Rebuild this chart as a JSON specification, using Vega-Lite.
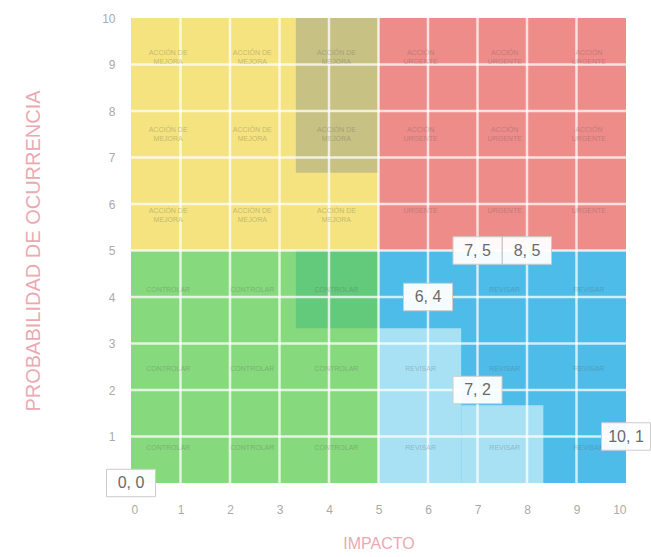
{
  "$schema": "https://vega.github.io/schema/vega-lite/v6.json",
  "autosize": "none",
  "width": 495,
  "height": 465,
  "padding": {"left": 131, "top": 18, "right": 25, "bottom": 74},
  "background": "white",
  "config": {"view": {"stroke": null}, "font": "Liberation Sans"},
  "datasets": {
    "zones": [
      {"zone": "amarillo", "x": 0, "x2": 5, "y": 5, "y2": 10},
      {"zone": "rojo", "x": 5, "x2": 10, "y": 5, "y2": 10},
      {"zone": "verde", "x": 0, "x2": 5, "y": 0, "y2": 5},
      {"zone": "azul", "x": 5, "x2": 10, "y": 0, "y2": 5},
      {"zone": "oliva", "x": 3.33, "x2": 5, "y": 6.67, "y2": 10},
      {"zone": "verde oscuro", "x": 3.33, "x2": 5, "y": 3.33, "y2": 5},
      {"zone": "azul claro", "x": 5, "x2": 6.67, "y": 0, "y2": 3.33},
      {"zone": "azul claro", "x": 6.67, "x2": 8.33, "y": 0, "y2": 1.67}
    ],
    "grid": [
      {"v": 1}, {"v": 2}, {"v": 3}, {"v": 4}, {"v": 5},
      {"v": 6}, {"v": 7}, {"v": 8}, {"v": 9}
    ],
    "cells": [
      {"x": 0.75, "y": 9.25, "t": ["ACCIÓN DE", "MEJORA"]},
      {"x": 2.45, "y": 9.25, "t": ["ACCIÓN DE", "MEJORA"]},
      {"x": 4.15, "y": 9.25, "t": ["ACCIÓN DE", "MEJORA"]},
      {"x": 0.75, "y": 7.6, "t": ["ACCIÓN DE", "MEJORA"]},
      {"x": 2.45, "y": 7.6, "t": ["ACCIÓN DE", "MEJORA"]},
      {"x": 4.15, "y": 7.6, "t": ["ACCIÓN DE", "MEJORA"]},
      {"x": 0.75, "y": 5.85, "t": ["ACCIÓN DE", "MEJORA"]},
      {"x": 2.45, "y": 5.85, "t": ["ACCIÓN DE", "MEJORA"]},
      {"x": 4.15, "y": 5.85, "t": ["ACCIÓN DE", "MEJORA"]},
      {"x": 5.85, "y": 9.25, "t": ["ACCIÓN", "URGENTE"]},
      {"x": 7.55, "y": 9.25, "t": ["ACCIÓN", "URGENTE"]},
      {"x": 9.25, "y": 9.25, "t": ["ACCIÓN", "URGENTE"]},
      {"x": 5.85, "y": 7.6, "t": ["ACCIÓN", "URGENTE"]},
      {"x": 7.55, "y": 7.6, "t": ["ACCIÓN", "URGENTE"]},
      {"x": 9.25, "y": 7.6, "t": ["ACCIÓN", "URGENTE"]},
      {"x": 5.85, "y": 5.85, "t": ["URGENTE"]},
      {"x": 7.55, "y": 5.85, "t": ["URGENTE"]},
      {"x": 9.25, "y": 5.85, "t": ["URGENTE"]},
      {"x": 0.75, "y": 4.15, "t": ["CONTROLAR"]},
      {"x": 2.45, "y": 4.15, "t": ["CONTROLAR"]},
      {"x": 4.15, "y": 4.15, "t": ["CONTROLAR"]},
      {"x": 0.75, "y": 2.45, "t": ["CONTROLAR"]},
      {"x": 2.45, "y": 2.45, "t": ["CONTROLAR"]},
      {"x": 4.15, "y": 2.45, "t": ["CONTROLAR"]},
      {"x": 0.75, "y": 0.75, "t": ["CONTROLAR"]},
      {"x": 2.45, "y": 0.75, "t": ["CONTROLAR"]},
      {"x": 4.15, "y": 0.75, "t": ["CONTROLAR"]},
      {"x": 7.55, "y": 4.15, "t": ["REVISAR"]},
      {"x": 9.25, "y": 4.15, "t": ["REVISAR"]},
      {"x": 5.85, "y": 2.45, "t": ["REVISAR"]},
      {"x": 7.55, "y": 2.45, "t": ["REVISAR"]},
      {"x": 9.25, "y": 2.45, "t": ["REVISAR"]},
      {"x": 5.85, "y": 0.75, "t": ["REVISAR"]},
      {"x": 7.55, "y": 0.75, "t": ["REVISAR"]},
      {"x": 9.25, "y": 0.75, "t": ["REVISAR"]}
    ],
    "points": [
      {"x": 0, "y": 0, "label": "0, 0"},
      {"x": 7, "y": 5, "label": "7, 5"},
      {"x": 8, "y": 5, "label": "8, 5"},
      {"x": 6, "y": 4, "label": "6, 4"},
      {"x": 7, "y": 2, "label": "7, 2"},
      {"x": 10, "y": 1, "label": "10, 1"}
    ]
  },
  "layer": [
    {
      "data": {"name": "zones"},
      "mark": {"type": "rect"},
      "encoding": {
        "x": {
          "field": "x", "type": "quantitative",
          "scale": {"domain": [0, 10], "nice": false},
          "axis": {
            "title": "IMPACTO", "values": [0,1,2,3,4,5,6,7,8,9,10],
            "grid": false, "domain": false, "ticks": false,
            "labelColor": "#aaaaaa", "labelFontSize": 12, "labelPadding": 21,
            "titleColor": "#eba9b2", "titleFontSize": 16, "titleFontWeight": "normal",
            "titlePadding": 20
          }
        },
        "x2": {"field": "x2"},
        "y": {
          "field": "y", "type": "quantitative",
          "scale": {"domain": [0, 10], "nice": false},
          "axis": {
            "title": "PROBABILIDAD DE OCURRENCIA", "values": [0,1,2,3,4,5,6,7,8,9,10],
            "grid": false, "domain": false, "ticks": false,
            "labelColor": "#aaaaaa", "labelFontSize": 12, "labelPadding": 16,
            "titleColor": "#eba9b2", "titleFontSize": 20, "titleFontWeight": "normal",
            "titlePadding": 58
          }
        },
        "y2": {"field": "y2"},
        "color": {
          "field": "zone", "type": "nominal", "legend": null,
          "scale": {
            "domain": ["amarillo", "rojo", "verde", "azul", "oliva", "verde oscuro", "azul claro"],
            "range": ["#f4e37f", "#ee8c89", "#87d97e", "#4dbce9", "#c8c184", "#63c97b", "#a9e1f4"]
          }
        }
      }
    },
    {
      "data": {"name": "grid"},
      "mark": {"type": "rule", "color": "white", "strokeWidth": 2.5, "opacity": 0.75},
      "encoding": {"x": {"field": "v", "type": "quantitative"}}
    },
    {
      "data": {"name": "grid"},
      "mark": {"type": "rule", "color": "white", "strokeWidth": 2.5, "opacity": 0.75},
      "encoding": {"y": {"field": "v", "type": "quantitative"}}
    },
    {
      "data": {"name": "cells"},
      "mark": {"type": "text", "fontSize": 7, "color": "#555555", "opacity": 0.3, "lineHeight": 9},
      "encoding": {
        "x": {"field": "x", "type": "quantitative"},
        "y": {"field": "y", "type": "quantitative"},
        "text": {"field": "t"}
      }
    },
    {
      "data": {"name": "points"},
      "mark": {
        "type": "point", "filled": true, "fill": "white", "fillOpacity": 0.95,
        "stroke": "#cccccc", "strokeWidth": 1, "strokeOpacity": 1,
        "shape": "M-1,-0.56L1,-0.56L1,0.56L-1,0.56Z", "size": 2401, "opacity": 1
      },
      "encoding": {
        "x": {"field": "x", "type": "quantitative"},
        "y": {"field": "y", "type": "quantitative"}
      }
    },
    {
      "data": {"name": "points"},
      "mark": {"type": "text", "fontSize": 16, "color": "#6a6a6a"},
      "encoding": {
        "x": {"field": "x", "type": "quantitative"},
        "y": {"field": "y", "type": "quantitative"},
        "text": {"field": "label"}
      }
    }
  ]
}
